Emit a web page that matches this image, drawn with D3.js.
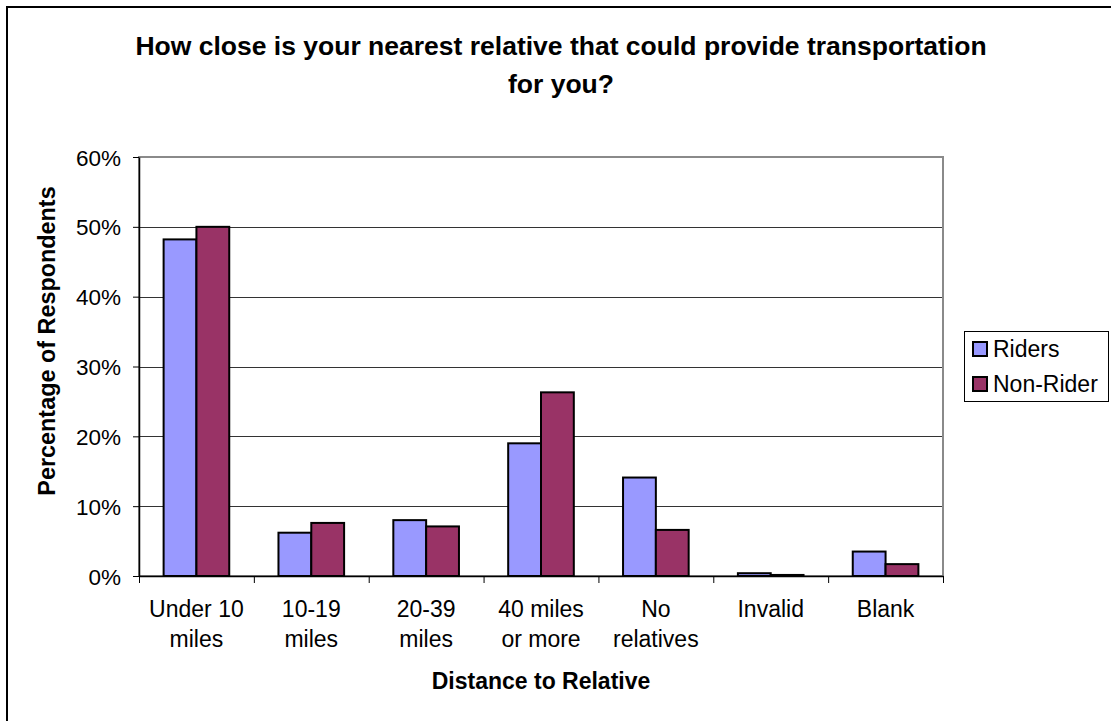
<!DOCTYPE html>
<html>
<head>
<meta charset="utf-8">
<script src="https://cdn.jsdelivr.net/npm/d3@7"></script>
<style>
html,body{margin:0;padding:0;background:#fff;}
svg{display:block;}
text{font-family:"Liberation Sans",Arial,sans-serif;fill:#000;}
</style>
</head>
<body>
<svg id="chart" width="1111" height="721"></svg>
<script>
const categories = [["Under 10","miles"],["10-19","miles"],["20-39","miles"],["40 miles","or more"],["No","relatives"],["Invalid"],["Blank"]];
const seriesNames = ["Riders","Non-Rider"];
const riders = [0.482, 0.062, 0.080, 0.190, 0.141, 0.004, 0.035];
const nonRiders = [0.500, 0.076, 0.071, 0.263, 0.066, 0.0015, 0.017];
const yTicks = [0, 0.1, 0.2, 0.3, 0.4, 0.5, 0.6];
const colors = ["#9999FF", "#993366"];
const titleLines = ["How close is your nearest relative that could provide transportation", "for you?"];

const svg = d3.select("#chart");
const fs = 22;

// outer border
svg.append("rect").attr("x",7).attr("y",7).attr("width",1130).attr("height",740)
  .attr("fill","#fff").attr("stroke","#000").attr("stroke-width",2);

const L = 139, R = 943, T = 157, B = 576;
const x = d3.scaleBand().domain(d3.range(categories.length)).range([L,R]).paddingInner(0).paddingOuter(0);
const y = d3.scaleLinear().domain([0,0.6]).range([B,T]);
const x1 = d3.scaleBand().domain([0,1]).range([0, x.bandwidth()*2/3.5]);

// gridlines
svg.append("g").selectAll("line").data(yTicks.filter(d=>d>0 && d<0.6)).join("line")
  .attr("x1",L).attr("x2",R).attr("y1",d=>Math.round(y(d))+0.5).attr("y2",d=>Math.round(y(d))+0.5)
  .attr("stroke","#333").attr("stroke-width",1);

// plot border (gray)
svg.append("rect").attr("x",L).attr("y",T).attr("width",R-L).attr("height",B-T)
  .attr("fill","none").attr("stroke","#8a8a8a").attr("stroke-width",2);

// bars
const series = [riders, nonRiders];
const groupOff = (x.bandwidth() - x.bandwidth()*2/3.5)/2;
series.forEach((vals, si) => {
  svg.append("g").selectAll("rect").data(vals).join("rect")
    .attr("x",(d,i)=>x(i)+groupOff+x1(si))
    .attr("y",d=>y(d))
    .attr("width",x1.bandwidth())
    .attr("height",d=>B-y(d))
    .attr("fill",colors[si]).attr("stroke","#000").attr("stroke-width",2);
});

// y axis
const yAxis = d3.axisLeft(y).tickValues(yTicks).tickFormat(d3.format(".0%")).tickSizeInner(6).tickSizeOuter(0).tickPadding(12);
const gy = svg.append("g").attr("transform",`translate(${L},0)`).call(yAxis);
gy.select(".domain").attr("stroke","#000").attr("stroke-width",1.5);
gy.selectAll(".tick line").attr("stroke","#000");
gy.selectAll("text").style("font-size","22.5px").attr("fill","#000").attr("dy","0.36em");

// x axis
const xb = d3.scaleLinear().domain([0,categories.length]).range([L,R]);
const gx = svg.append("g").attr("transform",`translate(0,${B})`)
  .call(d3.axisBottom(xb).tickValues(d3.range(categories.length+1)).tickFormat("").tickSizeInner(7).tickSizeOuter(0));
gx.select(".domain").attr("stroke","#000").attr("stroke-width",1.5);
gx.selectAll(".tick line").attr("stroke","#000");

// category labels
const cl = svg.append("g");
categories.forEach((lines,i)=>{
  const t = cl.append("text").attr("x",x(i)+x.bandwidth()/2).attr("y",617)
    .attr("text-anchor","middle").style("font-size","23px");
  lines.forEach((ln,j)=>{
    t.append("tspan").attr("x",x(i)+x.bandwidth()/2).attr("y",617+j*29.5).text(ln);
  });
});

// title
titleLines.forEach((ln,j)=>{
  svg.append("text").attr("x",561).attr("y",55+j*38).attr("text-anchor","middle")
    .style("font-size","26.5px").style("font-weight","bold").text(ln);
});

// axis titles
svg.append("text").attr("x",541).attr("y",689).attr("text-anchor","middle")
  .style("font-size","23px").style("font-weight","bold").text("Distance to Relative");
svg.append("text").attr("transform","translate(55,341) rotate(-90)").attr("text-anchor","middle")
  .style("font-size","23.4px").style("font-weight","bold").text("Percentage of Respondents");

// legend
const lg = svg.append("g");
lg.append("rect").attr("x",964.5).attr("y",331.5).attr("width",144).attr("height",70)
  .attr("fill","#fff").attr("stroke","#000").attr("stroke-width",1);
seriesNames.forEach((n,i)=>{
  lg.append("rect").attr("x",973).attr("y",342+i*35).attr("width",14).attr("height",14)
    .attr("fill",colors[i]).attr("stroke","#000").attr("stroke-width",2);
  lg.append("text").attr("x",993).attr("y",357+i*35).style("font-size","23px").text(n);
});
</script>
</body>
</html>
